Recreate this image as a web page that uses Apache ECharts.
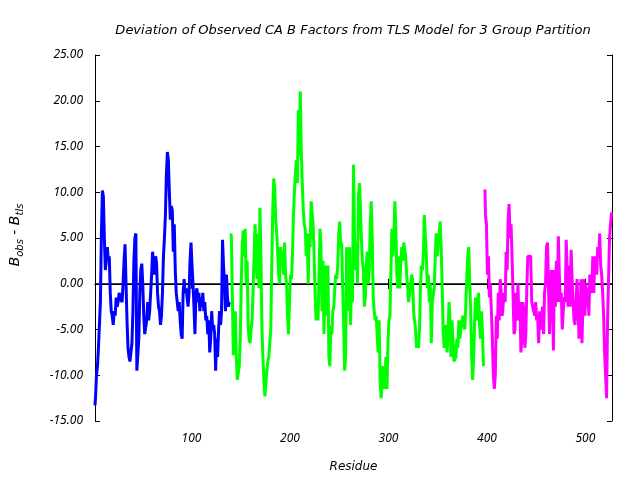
<!DOCTYPE html>
<html><head><meta charset="utf-8">
<script src="https://cdn.jsdelivr.net/npm/echarts@6/dist/echarts.min.js"></script>
<style>html,body{margin:0;padding:0;background:#fff}#c{width:640px;height:480px}</style>
</head><body><div id="c"></div>
<script>
const chartTitle = 'Deviation of Observed CA B Factors from TLS Model for 3 Group Partition';
const xTicks = [100, 200, 300, 400, 500];
const xMin = 2, xMax = 527;

const blueStart = 2;
const blueValues = [
-13.3,-12.5,-10,-9,-7,-4.5,-2,5.5,10.2,9.5,5,1.5,2.5,4,2.5,3,-1,-3,-3.5,-4.5,
-3,-3.5,-1.5,-2.5,-2,-1,-1.5,-1.5,-2,0,2.5,4.3,0,-4,-7,-8,-8.5,-8.5,-6.5,-3,
2.5,5,5.5,-9.5,-9.5,-6,-1,1.5,2.2,0,-3.5,-5.5,-5.5,-4,-2,-4,-3,-1,1,3.5,
2,1,3,2.3,-1,-2.5,-3,-4.5,-3.5,-1,3,5,7.5,12,14.4,13.5,10,7,8.5,8,
3.5,6.5,1.5,-1,-2,-3,-2,-4,-5.5,-6,-1,0.5,-1,-0.5,-1.5,-2.5,-1,2.5,4.5,2,
0,-2.5,-5.5,-1,-0.5,-2,-1,-3,-1.5,-2.5,-1,-3,-2,-4,-3.5,-5.5,-4,-7.5,-6,-3,
-5,-4.5,-5.5,-9.5,-6,-8,-5,-3,-4.5,-3,4.8,2,0,-3,1,-1.5,-2.5,-2
];

const greenStart = 140;
const greenValues = [
5.5,5,-1.5,-7.8,-4.5,-3,-8,-10.5,-10.5,-9,-6,0,4,5.8,3,6,0,2.5,-4.5,-6,
-6.5,-5,-4,-1,3,6.5,4,0.5,5.5,-0.5,8.3,3,-4.8,-8,-10.5,-12.3,-11,-9.5,-8.5,-8,
-6.5,-5,2,8,11.5,10.5,7,5.5,3.5,1,0,4,2.5,3.5,1,4.5,1,0,-3.5,-5.5,
-2,1,0.5,3,7.5,10,12,13.5,11,19,14,21,14.3,11,8,6.5,6,3,5.5,0,
5.5,4,9,9,6.5,3,-1,-4,-2.5,-4,-4,6,4,-3,2.5,-5.5,2,-1.5,-3.5,2,
-8,-9,-4.5,-5.5,-3,-2.5,-0.5,1,0.5,2,5.5,6.8,4,4.5,-0.5,-4.5,-9.5,-8,4,-3,
1,4,-4.5,0.5,-2,13,5,1.5,4.5,0,9.5,11,8.5,5,2.5,1.5,-2.5,-1.5,2,3.5,
0,1.5,6.5,9,5,-1.5,-3,-4,-3.5,-5.5,-7.5,-4,-10.5,-12.5,-11,-9,-11.5,-11.5,-8,-11.5,
-6.5,-4,-3.5,1.5,6,3,5,9,6,1,-0.5,3,-0.5,2.5,4,2.5,4.5,4.5,3,1,
-0.5,-2,-1,0,1,0.5,-3,-4,-5,-7,-6,-7,-5,-0.5,2,1.5,3.5,7.5,5,3,
-0.5,1,-2,0,-6.5,-2,-1.2,-0.5,3,5.5,3,3,5.5,6.8,4,0,-5,-7,-5.5,-4.5,
-7.5,-5.5,-2,-4,-8,-4,-6,-8.5,-8.5,-8,-6,-7,-4,-6,-5,-5,-3.5,-4.5,-5,-2.5,
0.5,3,4,0,-3,-8,-10.5,-8,-4,-1.5,-4,-2,-1,-4.5,-6,-3,-5.5,-9
];

const magentaStart = 398;
const magentaValues = [
10.3,7.5,6.5,1,3,-1.5,0,-3,-6,-10,-11.5,-10,-3.5,-6,-1,-4,0.5,-1,-3.5,-3.5,
-1,-2,3.5,1.5,7,8.7,5,6.5,3,-1,-5.5,-5,-1,-4,0,-4,-2,-7.5,-6,-2,
-3,-7,-5.5,-0.5,3,3,3,2.5,-2,-2.5,-3,-3.5,-2,-4,-3.5,-6.5,-3,-5,-4,-2.5,
-5.5,-1,0,4,4.5,0,-5.5,-2,1.5,-1,-7.3,1.5,-2.5,2.5,-2,5.2,1,-2,-1,-5,
-3,-1.5,-2,4.8,1,-2.5,2,-2.5,3.7,0.5,-2,-4,-4.5,-2,0.5,-2.5,-6,-5,0.5,-6.5,
-2,0.5,-3.5,0,-2.5,-0.5,-3.5,1,-1,-0.5,3,-1,3,2,1,4,3,5.5,2,1,
-1,-3.5,-7.5,-10,-12.5,-4,0.5,5,6.5,7.8
];

function toPairs(start, vals) { return vals.map((v, i) => [start + i, v]); }

const tickFont = 'Noto Sans';
const textFont = 'DejaVu Sans';
const chart = echarts.init(document.getElementById('c'), null, {renderer: 'canvas'});
const axisLineStyle = {color: '#000', width: 1};
chart.setOption({
  animation: false,
  backgroundColor: '#fff',
  title: {
    text: chartTitle, left: 348, top: 19, textAlign: 'center',
    textStyle: {fontFamily: textFont, fontStyle: 'italic', fontWeight: 'normal', fontSize: 13, color: '#000'}
  },
  grid: {left: 95, right: 28, top: 55, bottom: 59},
  xAxis: [{
    type: 'value', min: xMin, max: xMax, position: 'bottom',
    name: 'Residue', nameLocation: 'middle', nameGap: 40,
    nameTextStyle: {fontFamily: textFont, fontStyle: 'italic', fontSize: 12, color: '#000'},
    axisLine: {show: true, lineStyle: axisLineStyle},
    axisTick: {show: true, inside: true, length: 5, lineStyle: axisLineStyle, customValues: xTicks},
    axisLabel: {show: true, margin: 12, fontFamily: tickFont, fontStyle: 'italic', fontSize: 12, color: '#000', customValues: xTicks},
    splitLine: {show: false}
  }, {
    type: 'value', min: xMin, max: xMax, position: 'top',
    axisLine: {show: true, lineStyle: axisLineStyle},
    axisTick: {show: true, inside: true, length: 5, lineStyle: axisLineStyle, customValues: xTicks},
    axisLabel: {show: false},
    splitLine: {show: false}
  }],
  yAxis: [{
    type: 'value', min: -15, max: 25, interval: 5, position: 'left',
    axisLine: {show: true, lineStyle: axisLineStyle},
    axisTick: {show: true, inside: true, length: 5, lineStyle: axisLineStyle},
    axisLabel: {show: true, margin: 12, fontFamily: tickFont, fontStyle: 'italic', fontSize: 12, color: '#000',
      formatter: v => v.toFixed(2)},
    splitLine: {show: false}
  }, {
    type: 'value', min: -15, max: 25, interval: 5, position: 'right',
    axisLine: {show: true, lineStyle: axisLineStyle},
    axisTick: {show: true, inside: true, length: 5, lineStyle: axisLineStyle},
    axisLabel: {show: false},
    splitLine: {show: false}
  }],
  graphic: [{
    type: 'text', x: 15, y: 235, rotation: Math.PI / 2,
    style: {
      text: '{b|B}{s|obs}{b| - B}{s|tls}',
      align: 'center', verticalAlign: 'middle',
      fill: '#000',
      rich: {
        b: {fontFamily: textFont, fontStyle: 'italic', fontSize: 14, lineHeight: 20, verticalAlign: 'middle'},
        s: {fontFamily: textFont, fontStyle: 'italic', fontSize: 10, lineHeight: 10, verticalAlign: 'bottom'}
      }
    }
  }],
  series: [{
    type: 'line', name: 'zero', data: [[xMin, 0], [xMax, 0]], silent: true, z: 1,
    showSymbol: false, lineStyle: {color: '#000', width: 1}, itemStyle: {color: '#000'}
  }, {
    type: 'line', name: 'g1', data: toPairs(blueStart, blueValues), step: 'middle', z: 2,
    showSymbol: false, lineStyle: {color: '#0000ff', width: 3}, itemStyle: {color: '#0000ff'}
  }, {
    type: 'line', name: 'g2', data: toPairs(greenStart, greenValues), step: 'middle', z: 2,
    showSymbol: false, lineStyle: {color: '#00ff00', width: 3}, itemStyle: {color: '#00ff00'}
  }, {
    type: 'line', name: 'g3', data: toPairs(magentaStart, magentaValues), step: 'middle', z: 2,
    showSymbol: false, lineStyle: {color: '#ff00ff', width: 3}, itemStyle: {color: '#ff00ff'}
  }]
});
</script></body></html>
